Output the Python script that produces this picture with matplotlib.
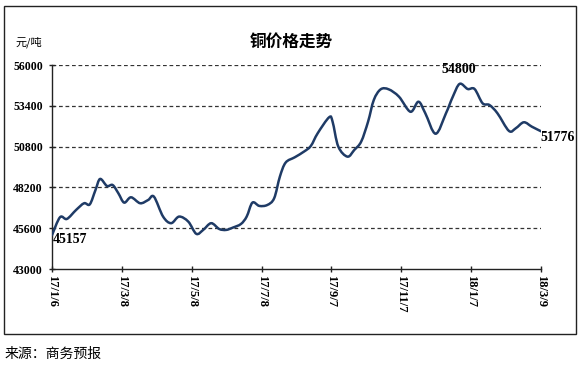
import numpy as np
import pandas as pd
import matplotlib.pyplot as plt
import matplotlib.dates as mdates
from matplotlib.patches import Rectangle, PathPatch
from matplotlib.path import Path

# === DATA ===
dates = ["2017-01-06", "2017-01-13", "2017-01-19", "2017-01-27", "2017-02-03", "2017-02-08",
         "2017-02-13", "2017-02-17", "2017-02-23", "2017-02-28", "2017-03-05", "2017-03-10",
         "2017-03-16", "2017-03-24", "2017-03-31", "2017-04-05", "2017-04-13", "2017-04-20",
         "2017-04-27", "2017-05-05", "2017-05-12", "2017-05-18", "2017-05-25", "2017-06-01",
         "2017-06-07", "2017-06-13", "2017-06-20", "2017-06-25", "2017-06-30", "2017-07-06",
         "2017-07-13", "2017-07-19", "2017-07-24", "2017-07-29", "2017-08-06", "2017-08-14",
         "2017-08-20", "2017-08-26", "2017-09-05", "2017-09-08", "2017-09-13", "2017-09-21",
         "2017-09-27", "2017-10-03", "2017-10-09", "2017-10-14", "2017-10-20", "2017-10-27",
         "2017-11-05", "2017-11-15", "2017-11-22", "2017-11-28", "2017-12-07", "2017-12-16",
         "2017-12-22", "2017-12-28", "2018-01-04", "2018-01-10", "2018-01-17", "2018-01-23",
         "2018-01-30", "2018-02-09", "2018-02-15", "2018-02-22", "2018-03-01", "2018-03-09"]
prices = [45157, 46300, 46190, 46760, 47190, 47120,
          48040, 48740, 48290, 48350, 47820, 47230,
          47570, 47190, 47400, 47610, 46340, 45920,
          46340, 46020, 45240, 45490, 45920, 45550,
          45490, 45640, 45870, 46340, 47230, 47020,
          47080, 47510, 48890, 49780, 50120, 50480,
          50840, 51650, 52670, 52390, 50800, 50160,
          50590, 51120, 52390, 53770, 54450, 54450,
          53980, 53020, 53660, 52920, 51620, 52920,
          53980, 54800, 54470, 54470, 53560, 53450,
          52920, 51800, 51970, 52350, 52070, 51776]

tick_dates = ["2017-01-06", "2017-03-08", "2017-05-08", "2017-07-08",
              "2017-09-07", "2017-11-07", "2018-01-07", "2018-03-09"]
tick_labels = ["17/1/6", "17/3/8", "17/5/8", "17/7/8", "17/9/7", "17/11/7", "18/1/7", "18/3/9"]
y_ticks = [43000, 45600, 48200, 50800, 53400, 56000]

# labels: (index, text, offset in pixels, ha, va)
callouts = [(0, "45157", (1, -4), "left", "center"),
            (55, "54800", (-1, 8), "center", "bottom"),
            (65, "51776", (-1, -6), "left", "center")]

dates = pd.to_datetime(dates)
tick_dates = pd.to_datetime(tick_dates)


def smooth_path(xs, ys):
    # excel-like smoothed line: bezier segments through every point
    pts = np.column_stack([xs, ys])
    verts = [pts[0]]
    codes = [Path.MOVETO]
    n = len(pts)
    for i in range(n - 1):
        p0 = pts[max(i - 1, 0)]
        p1 = pts[i]
        p2 = pts[i + 1]
        p3 = pts[min(i + 2, n - 1)]
        verts += [p1 + (p2 - p0) / 6, p2 - (p3 - p1) / 6, p2]
        codes += [Path.CURVE4] * 3
    return Path(verts, codes)


# === PLOT ===
cjk = ["Noto Sans CJK SC", "DejaVu Sans"]
serif = "Liberation Serif"

fig = plt.figure(figsize=(5.88, 3.68), dpi=100)
ax = fig.add_axes([52 / 588, 1 - 269 / 368, (541 - 52) / 588, (269 - 65) / 368])

xnum = mdates.date2num(dates)
ax.add_patch(PathPatch(smooth_path(xnum, np.array(prices, float)), fill=False,
                       edgecolor="#1f3b66", lw=1.8, capstyle="round", joinstyle="round", zorder=3))

ax.set_xlim(tick_dates[0], tick_dates[-1])
ax.set_ylim(43000, 56000)
ax.set_yticks(y_ticks)
ax.set_yticklabels([str(v) for v in y_ticks], fontfamily=serif, fontweight="bold", fontsize=8.5)
ax.set_xticks(tick_dates)
ax.set_xticklabels(tick_labels, rotation=-90, fontfamily=serif, fontweight="bold", fontsize=9)

for v in y_ticks[1:]:
    ax.axhline(v, color="#333333", lw=0.9, ls=(0, (3, 2.2)), zorder=0)

for s in ["top", "right"]:
    ax.spines[s].set_visible(False)
for s in ["left", "bottom"]:
    ax.spines[s].set_color("#222222")
    ax.spines[s].set_linewidth(1.0)
ax.tick_params(axis="both", length=5, width=1, color="#222222")
ax.tick_params(axis="x", direction="inout", pad=2)
ax.tick_params(axis="y", direction="inout", pad=4)

for i, txt, off, ha, va in callouts:
    ax.annotate(txt, (dates[i], prices[i]), xytext=off, textcoords="offset pixels",
                ha=ha, va=va, fontfamily=serif, fontweight="bold", fontsize=10, zorder=4)

fig.text(291 / 588, 1 - 42 / 368, "铜价格走势", ha="center", va="center",
         family=cjk, fontweight="bold", fontsize=12)
fig.text(15 / 588, 1 - 42 / 368, "元/吨", ha="left", va="center", family=cjk, fontsize=8)
fig.text(5 / 588, 1 - 354 / 368, "来源：商务预报", ha="left", va="center", family=cjk, fontsize=10)

fig.add_artist(Rectangle((4 / 588, 1 - 334 / 368), (576 - 4) / 588, (334 - 6) / 368,
                         transform=fig.transFigure, fill=False, edgecolor="#222222", lw=1.0))

fig.savefig("out.png", dpi=100)
